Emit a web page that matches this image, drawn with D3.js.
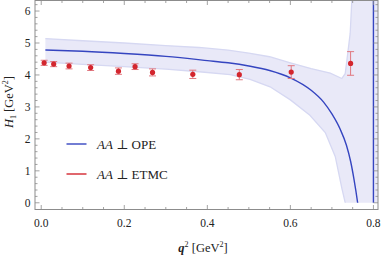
<!DOCTYPE html>
<html>
<head>
<meta charset="utf-8">
<script src="https://cdn.jsdelivr.net/npm/d3@7"></script>
<style>
  body { margin: 0; background: #fff; }
</style>
</head>
<body>
<svg id="chart" width="382" height="257"></svg>
<script>
// ETMC lattice points
let etmcQ2 = [0.007, 0.030, 0.067, 0.119, 0.186, 0.226, 0.268, 0.365, 0.477, 0.602, 0.745];
let etmcH = [4.38, 4.34, 4.28, 4.23, 4.12, 4.26, 4.08, 4.02, 4.01, 4.09, 4.36];
let etmcErr = [0.08, 0.08, 0.09, 0.09, 0.10, 0.09, 0.11, 0.13, 0.16, 0.20, 0.37];

// OPE central curve
let opeQ2 = [0.01, 0.1, 0.2, 0.3, 0.4, 0.45, 0.5, 0.55, 0.6, 0.65, 0.68, 0.7, 0.72, 0.735, 0.745, 0.753, 0.762, 0.765];
let opeH = [4.78, 4.74, 4.67, 4.58, 4.45, 4.38, 4.28, 4.14, 3.91, 3.52, 3.15, 2.78, 2.3, 1.8, 1.3, 0.75, 0.0, -0.3];
// branch after the pole
let poleQ2 = [0.8, 0.8];
let poleH = [-1, 8];

// OPE uncertainty band
let bandUpQ2 = [0.01, 0.1, 0.2, 0.3, 0.38, 0.45, 0.5, 0.55, 0.6, 0.65, 0.696, 0.724, 0.732, 0.736, 0.744, 0.749];
let bandUpH = [5.14, 5.07, 5.0, 4.92, 4.86, 4.78, 4.68, 4.57, 4.38, 4.2, 4.06, 3.89, 4.04, 4.45, 5.3, 6.6];
let bandLoQ2 = [0.01, 0.1, 0.2, 0.3, 0.38, 0.455, 0.503, 0.551, 0.6, 0.647, 0.684, 0.708, 0.724, 0.733];
let bandLoH = [4.40, 4.33, 4.26, 4.18, 4.10, 4.01, 3.86, 3.63, 3.22, 2.74, 2.2, 1.45, 0.45, -0.05];

let xTicks = [0.0, 0.2, 0.4, 0.6, 0.8];
let yTicks = [0, 1, 2, 3, 4, 5, 6];

let legendNames = ["OPE", "ETMC"];
let blue = "#3545c0", red = "#d3262e";
let serif = "'Liberation Serif', 'Times New Roman', 'DejaVu Serif', serif";

let svg = d3.select("#chart").attr("font-family", serif);
let L = 35, R = 378, T = 0.5, B = 209.5;
let x = d3.scaleLinear().domain([-0.015, 0.811]).range([L, R]);
let y = d3.scaleLinear().domain([-0.21, 6.33]).range([B, T]);

svg.append("clipPath").attr("id", "clip").append("rect")
    .attr("x", L).attr("y", T).attr("width", R - L).attr("height", y(0) - T);

let plot = svg.append("g").attr("clip-path", "url(#clip)");

// band polygon
let up = bandUpQ2.map((q, i) => [q, bandUpH[i]]);
let lo = bandLoQ2.map((q, i) => [q, bandLoH[i]]);
let poly = up.concat([[0.9, 6.6], [0.9, -0.5]], lo.slice().reverse());
let line = d3.line().x(d => x(d[0])).y(d => y(d[1]));
plot.append("path").attr("d", line(poly) + "Z").attr("fill", "#e9e9f8").attr("stroke", "none");
plot.append("path").attr("d", line(up)).attr("fill", "none").attr("stroke", "#d6d8f2").attr("stroke-width", 1.3);
plot.append("path").attr("d", line(lo)).attr("fill", "none").attr("stroke", "#d6d8f2").attr("stroke-width", 1.3);

// OPE curve
let ope = opeQ2.map((q, i) => [q, opeH[i]]);
let smooth = d3.line().x(d => x(d[0])).y(d => y(d[1])).curve(d3.curveMonotoneX);
plot.append("path").attr("d", smooth(ope)).attr("fill", "none").attr("stroke", blue).attr("stroke-width", 1.4);
plot.append("path").attr("d", line(poleQ2.map((q, i) => [q, poleH[i]])))
    .attr("fill", "none").attr("stroke", blue).attr("stroke-width", 1.4);

// ETMC points with error bars
let pts = svg.append("g");
etmcQ2.forEach((q, i) => {
    let cx = x(q), y0 = y(etmcH[i] - etmcErr[i]), y1 = y(etmcH[i] + etmcErr[i]);
    let g = pts.append("g").attr("stroke", "#e07880").attr("stroke-width", 1);
    g.append("line").attr("x1", cx).attr("x2", cx).attr("y1", y0).attr("y2", y1);
    g.append("line").attr("x1", cx - 3.5).attr("x2", cx + 3.5).attr("y1", y0).attr("y2", y0);
    g.append("line").attr("x1", cx - 3.5).attr("x2", cx + 3.5).attr("y1", y1).attr("y2", y1);
    pts.append("circle").attr("cx", cx).attr("cy", y(etmcH[i])).attr("r", 2.6).attr("fill", red);
});

// frame + ticks
let frameCol = "#8c8c8c";
svg.append("rect").attr("x", L).attr("y", T).attr("width", R - L).attr("height", B - T)
    .attr("fill", "none").attr("stroke", frameCol).attr("stroke-width", 1);

let xMinor = d3.range(0, 0.811, 0.05);
let yMinor = d3.range(0, 6.33, 0.2);
let tk = svg.append("g").attr("stroke", frameCol).attr("stroke-width", 0.8);
xMinor.forEach(v => {
    let major = xTicks.some(t => Math.abs(t - v) < 1e-6);
    let len = major ? 4.5 : 2.5;
    tk.append("line").attr("x1", x(v)).attr("x2", x(v)).attr("y1", B).attr("y2", B - len);
    tk.append("line").attr("x1", x(v)).attr("x2", x(v)).attr("y1", T).attr("y2", T + len);
});
yMinor.forEach(v => {
    let major = yTicks.some(t => Math.abs(t - v) < 1e-6);
    let len = major ? 4.5 : 2.5;
    tk.append("line").attr("x1", L).attr("x2", L + len).attr("y1", y(v)).attr("y2", y(v));
    tk.append("line").attr("x1", R).attr("x2", R - len).attr("y1", y(v)).attr("y2", y(v));
});

svg.append("g").selectAll("text").data(xTicks).enter().append("text")
    .attr("x", d => x(d)).attr("y", 227).attr("text-anchor", "middle").attr("fill", "#222")
    .attr("font-size", 11.5).text(d => d.toFixed(1));
svg.append("g").selectAll("text").data(yTicks).enter().append("text")
    .attr("x", 30.5).attr("y", d => y(d) + 4).attr("text-anchor", "end").attr("fill", "#222")
    .attr("font-size", 11.5).text(d => d);

// axis labels
let xl = svg.append("text").attr("x", 203).attr("y", 252).attr("text-anchor", "middle")
    .attr("font-size", 12.5).attr("fill", "#222");
xl.append("tspan").attr("font-weight", "bold").attr("font-style", "italic").text("q");
xl.append("tspan").attr("font-size", 8).attr("dy", -5).text("2");
xl.append("tspan").attr("dy", 5).text(" [GeV");
xl.append("tspan").attr("font-size", 8).attr("dy", -5).text("2");
xl.append("tspan").attr("dy", 5).text("]");

let yl = svg.append("text").attr("transform", "translate(13,102) rotate(-90)")
    .attr("text-anchor", "middle").attr("font-size", 12.5).attr("fill", "#222");
yl.append("tspan").attr("font-style", "italic").text("H");
yl.append("tspan").attr("font-size", 8).attr("dy", 3).text("1");
yl.append("tspan").attr("dy", -3).text(" [GeV");
yl.append("tspan").attr("font-size", 8).attr("dy", -5).text("2");
yl.append("tspan").attr("dy", 5).text("]");

// legend
let lg = svg.append("g");
legendNames.forEach((n, i) => {
    let ly = 144 + i * 30;
    lg.append("line").attr("x1", 66.5).attr("x2", 86.5).attr("y1", ly).attr("y2", ly)
        .attr("stroke", i === 0 ? blue : red).attr("stroke-width", 1.4);
    let t = lg.append("text").attr("x", 97).attr("y", ly + 4.5).attr("font-size", 13).attr("fill", "#222");
    t.append("tspan").attr("font-style", "italic").text("AA");
    t.append("tspan").text(" \u22A5  " + n);
});
</script>
</body>
</html>
